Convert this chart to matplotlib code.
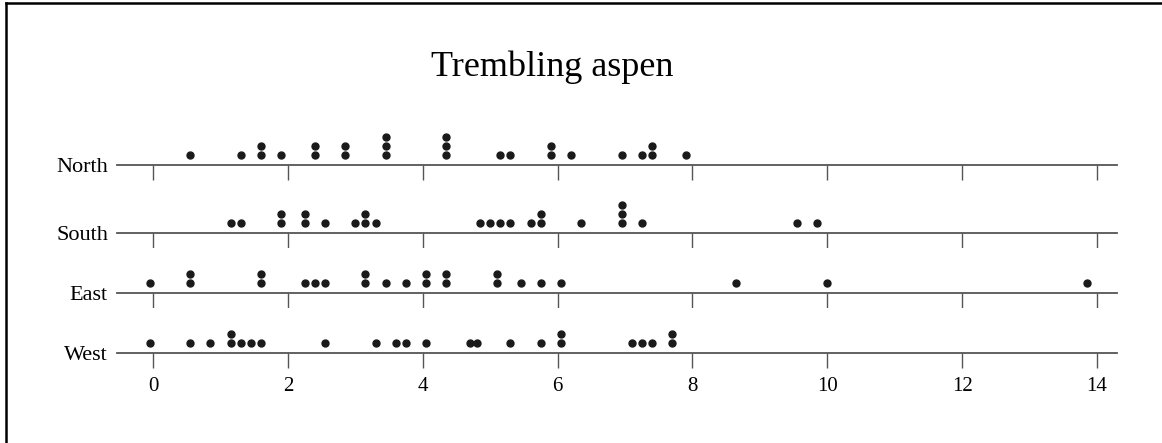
import matplotlib
matplotlib.use('Agg')
import matplotlib.pyplot as plt
from matplotlib.lines import Line2D

# stacked dot plot, one strip per region
title = "Trembling aspen"
regions = ["North", "South", "East", "West"]

north = [0.55, 1.3, 1.6, 1.6, 1.9, 2.4, 2.4, 2.85, 2.85, 3.45, 3.45, 3.45,
         4.35, 4.35, 4.35, 5.15, 5.3, 5.9, 5.9, 6.2, 6.95, 7.25, 7.4, 7.4, 7.9]
south = [1.15, 1.3, 1.9, 1.9, 2.25, 2.25, 2.55, 3.0, 3.15, 3.15, 3.3,
         4.85, 5.0, 5.15, 5.3, 5.6, 5.75, 5.75, 6.35, 6.95, 6.95, 6.95,
         7.25, 9.55, 9.85]
east = [-0.05, 0.55, 0.55, 1.6, 1.6, 2.25, 2.4, 2.55, 3.15, 3.15, 3.45,
        3.75, 4.05, 4.05, 4.35, 4.35, 5.1, 5.1, 5.45, 5.75, 6.05, 8.65,
        10.0, 13.85]
west = [-0.05, 0.55, 0.85, 1.15, 1.15, 1.3, 1.45, 1.6, 2.55, 3.3, 3.6,
        3.75, 4.05, 4.7, 4.8, 5.3, 5.75, 6.05, 6.05, 7.1, 7.25, 7.4, 7.7, 7.7]
series = [north, south, east, west]
xticks = [0, 2, 4, 6, 8, 10, 12, 14]

W, H = 1162, 443
fig = plt.figure(figsize=(W / 100, H / 100), dpi=100)
serif = ['Liberation Serif', 'DejaVu Serif']

baselines = [165, 233, 293, 353]   # pixel rows of each strip
ax_h = 45
for name, vals, b in zip(regions, series, baselines):
    ax = fig.add_axes([117 / W, (H - b) / H, 1000 / W, ax_h / H])
    ax.set_xlim(-0.534, 14.296)
    ax.set_ylim(-10 / 9, -10 / 9 + ax_h / 9)
    # stack repeated values
    seen = {}
    xs, ys = [], []
    for v in vals:
        k = seen.get(v, 0)
        seen[v] = k + 1
        xs.append(v)
        ys.append(k)
    ax.plot(xs, ys, 'o', ms=5, color='#1a1a1a', mec='#1a1a1a', clip_on=False)
    for s in ['top', 'right', 'left']:
        ax.spines[s].set_visible(False)
    ax.spines['bottom'].set_color('#555555')
    ax.spines['bottom'].set_linewidth(1.3)
    ax.set_yticks([])
    ax.set_xticks(xticks)
    ax.tick_params(axis='x', direction='out', length=11, width=1.0,
                   color='#555555', pad=6, labelsize=15)
    if name != regions[-1]:
        ax.set_xticklabels([])
    else:
        for t in ax.get_xticklabels():
            t.set_family(serif)
    ax.text(-0.009, -3 / ax_h, name, transform=ax.transAxes, ha='right',
            va='center', fontsize=16, family=serif)

fig.text(552 / W, 1 - 67 / H, title, ha='center', va='center',
         fontsize=26, family=serif)

# frame around the figure (left and top edges visible)
fig.add_artist(Line2D([6 / W, 6 / W], [0, 1 - 3 / H], transform=fig.transFigure,
                      color='black', lw=1.8))
fig.add_artist(Line2D([6 / W, 1], [1 - 3 / H, 1 - 3 / H], transform=fig.transFigure,
                      color='black', lw=1.8))

plt.savefig("out.png", dpi=100)
